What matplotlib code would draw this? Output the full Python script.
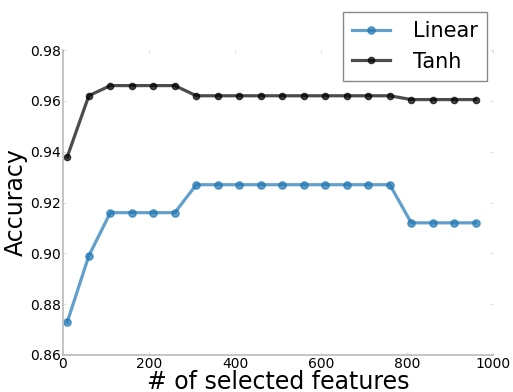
import matplotlib
matplotlib.use("Agg")
import matplotlib.pyplot as plt
import numpy as np

# data
n_features = [10, 60, 110, 160, 210, 260, 310, 360, 410, 460,
              510, 560, 610, 660, 710, 760, 810, 860, 910, 960]
linear_acc = [0.873, 0.899, 0.916, 0.916, 0.916, 0.916, 0.927, 0.927, 0.927, 0.927,
              0.927, 0.927, 0.927, 0.927, 0.927, 0.927, 0.912, 0.912, 0.912, 0.912]
tanh_acc = [0.938, 0.962, 0.966, 0.966, 0.966, 0.966, 0.962, 0.962, 0.962, 0.962,
            0.962, 0.962, 0.962, 0.962, 0.962, 0.962, 0.9605, 0.9605, 0.9605, 0.9605]

fig = plt.figure(figsize=(5.13, 3.92), dpi=100)
ax = fig.add_axes([0.1228, 0.0944, 0.8382, 0.778])

ax.plot(n_features, linear_acc, "-o", color="#1f77b4", alpha=0.7, lw=2.3, ms=5.2, label="Linear")
ax.plot(n_features, tanh_acc, "-o", color="black", alpha=0.7, lw=2.3, ms=4.5, label="Tanh")

ax.set_xlim(0, 1000)
ax.set_ylim(0.86, 0.98)
ax.set_yticks(np.arange(0.86, 0.981, 0.02))
ax.set_xticks(np.arange(0, 1001, 200))

for side in ["top", "right"]:
    ax.spines[side].set_visible(False)
for side in ["left", "bottom"]:
    ax.spines[side].set_color("#bbbbbb")
    ax.spines[side].set_linewidth(1.2)

ax.tick_params(direction="in", length=2, color="#dddddd", labelsize=10,
               top=True, right=True, pad=1.5)

ax.set_xlabel("# of selected features", fontsize=17)
ax.set_ylabel("Accuracy", fontsize=17)
ax.yaxis.set_label_coords(-0.081, 0.5)
ax.xaxis.set_label_coords(0.5, -0.048)

leg = ax.legend(loc="upper right", bbox_to_anchor=(0.986, 1.125), fontsize=15,
                fancybox=False, framealpha=1, borderpad=0.45, labelspacing=0.5,
                handlelength=1.8, handletextpad=1.1, borderaxespad=0)
leg.get_frame().set_edgecolor("#888888")

fig.savefig("out.png", dpi=100)
